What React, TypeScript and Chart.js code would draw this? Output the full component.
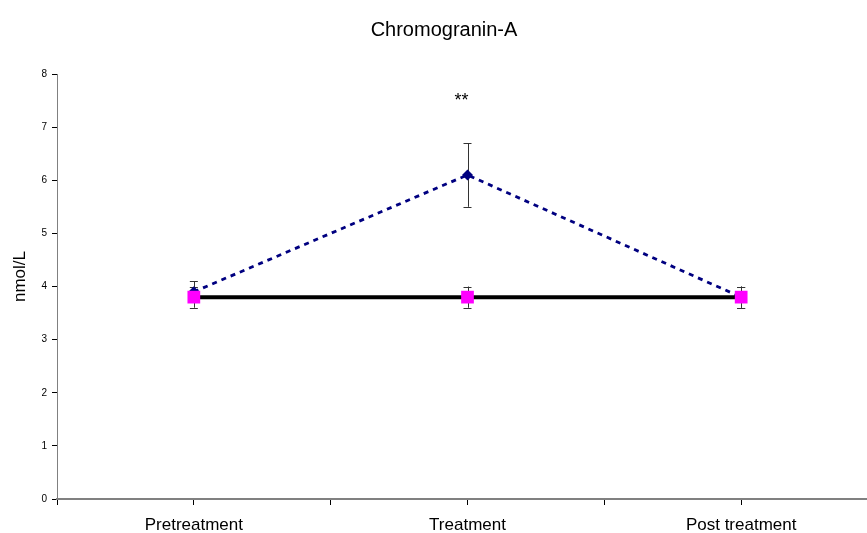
import React, { useEffect, useRef } from "react";
import { Chart, registerables } from "chart.js";

Chart.register(...registerables);

const categories = ["Pretreatment", "Treatment", "Post treatment"];
const treatedMeans = [3.9, 6.1, 3.8];
const treatedErr = [0.2, 0.6, 0.2];
const controlMeans = [3.8, 3.8, 3.8];
const controlErr = [0.2, 0.2, 0.2];
const yTicks = [0, 1, 2, 3, 4, 5, 6, 7, 8];
const annotations = [{ index: 1, y: 7.52, text: "**" }];
const yTitle = "nmol/L";

const FONT = "'Liberation Sans', Arial, sans-serif";

const errorBarPlugin = {
  id: "errorBars",
  beforeDatasetsDraw(chart: any) {
    const { ctx, scales } = chart;
    const xs = scales.x;
    const ys = scales.y;
    const draw = (means: number[], errs: number[]) => {
      means.forEach((m, i) => {
        const px = xs.getPixelForValue(i + 0.5);
        const top = ys.getPixelForValue(m + errs[i]);
        const bot = ys.getPixelForValue(m - errs[i]);
        ctx.save();
        ctx.strokeStyle = "#333333";
        ctx.lineWidth = 1;
        ctx.beginPath();
        ctx.moveTo(Math.round(px) + 0.5, top);
        ctx.lineTo(Math.round(px) + 0.5, bot);
        ctx.moveTo(px - 4, Math.round(top) + 0.5);
        ctx.lineTo(px + 4, Math.round(top) + 0.5);
        ctx.moveTo(px - 4, Math.round(bot) + 0.5);
        ctx.lineTo(px + 4, Math.round(bot) + 0.5);
        ctx.stroke();
        ctx.restore();
      });
    };
    draw(treatedMeans, treatedErr);
    draw(controlMeans, controlErr);
  },
  afterDraw(chart: any) {
    const { ctx, scales, chartArea } = chart;
    annotations.forEach((a) => {
      const px = scales.x.getPixelForValue(a.index + 0.5);
      const py = scales.y.getPixelForValue(a.y);
      ctx.save();
      ctx.fillStyle = "#000";
      ctx.font = `18px ${FONT}`;
      ctx.textAlign = "center";
      ctx.textBaseline = "middle";
      ctx.fillText(a.text, px - 6, py + 2);
      ctx.restore();
    });
    ctx.save();
    ctx.fillStyle = "#000";
    ctx.font = `17px ${FONT}`;
    ctx.textAlign = "center";
    ctx.textBaseline = "middle";
    ctx.translate(20, (chartArea.top + chartArea.bottom) / 2 - 10);
    ctx.rotate(-Math.PI / 2);
    ctx.fillText(yTitle, 0, 0);
    ctx.restore();
  },
};

export default function App() {
  const ref = useRef<HTMLCanvasElement>(null);

  useEffect(() => {
    if (!ref.current) return;
    const chart = new Chart(ref.current, {
      type: "line",
      data: {
        datasets: [
          {
            label: "Control",
            data: controlMeans.map((v, i) => ({ x: i + 0.5, y: v })),
            borderColor: "#000000",
            borderWidth: 4,
            pointStyle: "rect",
            pointRadius: 9,
            pointBackgroundColor: "#FF00FF",
            pointBorderColor: "#FF00FF",
            pointBorderWidth: 0,
            order: 1,
          },
          {
            label: "Treated",
            data: treatedMeans.map((v, i) => ({ x: i + 0.5, y: v })),
            borderColor: "#000080",
            borderWidth: 2.8,
            borderDash: [5, 5],
            pointStyle: "rectRot",
            pointRadius: 5.5,
            pointBackgroundColor: "#000080",
            pointBorderColor: "#000080",
            pointBorderWidth: 0,
            order: 2,
          },
        ],
      },
      options: {
        animation: false,
        responsive: false,
        devicePixelRatio: 1,
        layout: { padding: 0 },
        plugins: {
          legend: { display: false },
          tooltip: { enabled: false },
          title: {
            display: true,
            text: "Chromogranin-A",
            color: "#000",
            font: { family: FONT, size: 20, weight: "normal" },
            padding: { top: 18, bottom: 32 },
          },
        },
        scales: {
          x: {
            type: "linear",
            min: 0,
            max: 3,
            afterBuildTicks: (scale: any) => {
              scale.ticks = [0, 0.5, 1, 1.5, 2, 2.5, 3].map((v) => ({ value: v }));
            },
            afterFit: (scale: any) => {
              scale.height = 34;
            },
            ticks: {
              autoSkip: false,
              maxRotation: 0,
              color: "#000",
              padding: 10,
              font: { family: FONT, size: 17 },
              callback: (v: any) => {
                const idx = Number(v) - 0.5;
                return Number.isInteger(idx) ? categories[idx] ?? "" : "";
              },
            },
            grid: {
              drawOnChartArea: false,
              tickLength: 6,
              color: "#000",
            },
            border: { color: "#808080", width: 2 },
          },
          y: {
            min: 0,
            max: 8,
            afterBuildTicks: (scale: any) => {
              scale.ticks = yTicks.map((v) => ({ value: v }));
            },
            afterFit: (scale: any) => {
              scale.width = 57;
            },
            ticks: {
              color: "#000",
              padding: 5,
              font: { family: FONT, size: 10 },
            },
            grid: {
              drawOnChartArea: false,
              tickLength: 5,
              color: "#000",
            },
            border: { color: "#808080", width: 1 },
          },
        },
      },
      plugins: [errorBarPlugin],
    });
    return () => chart.destroy();
  }, []);

  return (
    <div
      style={{
        position: "absolute",
        left: 0,
        top: 0,
        width: 867,
        height: 533,
        overflow: "hidden",
        background: "#fff",
      }}
    >
      <canvas ref={ref} width={888} height={533} style={{ display: "block" }} />
    </div>
  );
}
